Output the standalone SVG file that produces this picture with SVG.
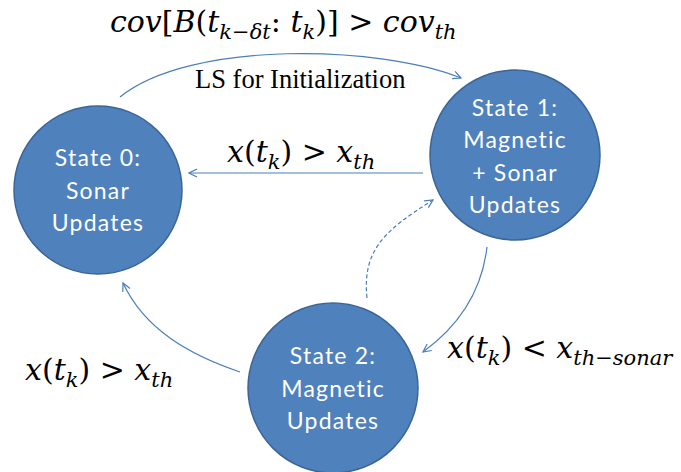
<svg xmlns="http://www.w3.org/2000/svg" width="681" height="472" viewBox="0 0 681 472">
  <style>
    .state { fill: #4f81bd; stroke: #3b6597; stroke-width: 1.5; }
    .label { font-family: Lato, "Open Sans", sans-serif; font-size: 23px; letter-spacing: 1.2px; fill: #ffffff; text-anchor: middle; }
    .edge { fill: none; stroke: #4a7ebb; stroke-width: 1.2; }
    .dashed { stroke-dasharray: 4 2.5; }
    .math { font-family: "DejaVu Serif", serif; font-size: 30px; fill: #000000; }
    .it { font-style: italic; }
    .sub { font-size: 21px; font-style: italic; }
    .plain { font-family: "Liberation Serif", serif; font-size: 26.5px; fill: #000000; }
  </style>
  <defs>
    <marker id="arrow" viewBox="0 0 10 10" refX="9" refY="5" markerWidth="10" markerHeight="10" markerUnits="userSpaceOnUse" orient="auto">
      <path d="M1,1 L9,5 L1,9" fill="none" stroke="#4a7ebb" stroke-width="1.2"/>
    </marker>
  </defs>

  <!-- transitions -->
  <g id="connectors">
    <path class="edge" d="M120,97 C190,40 380,45 461,78" marker-end="url(#arrow)"/>
    <path class="edge" d="M423,173 L189,173" marker-end="url(#arrow)"/>
    <path class="edge dashed" d="M367,298 C362,250 385,230 433,200" marker-end="url(#arrow)"/>
    <path class="edge" d="M487,247 C482,290 460,325 423,352" marker-end="url(#arrow)"/>
    <path class="edge" d="M240,372 C190,355 145,330 123,283" marker-end="url(#arrow)"/>
  </g>

  <g id="state0">
    <circle class="state" cx="98" cy="190" r="84"/>
    <text class="label" x="98" y="166">State 0:</text>
    <text class="label" x="98" y="199">Sonar</text>
    <text class="label" x="98" y="231">Updates</text>
  </g>

  <g id="state1">
    <circle class="state" cx="515" cy="155" r="85"/>
    <text class="label" x="515" y="116">State 1:</text>
    <text class="label" x="515" y="148">Magnetic</text>
    <text class="label" x="515" y="181">+ Sonar</text>
    <text class="label" x="515" y="213">Updates</text>
  </g>

  <g id="state2">
    <circle class="state" cx="333" cy="388" r="85"/>
    <text class="label" x="333" y="364">State 2:</text>
    <text class="label" x="333" y="397">Magnetic</text>
    <text class="label" x="333" y="429">Updates</text>
  </g>

  <!-- transition conditions -->
  <g id="labels">
    <text class="math" x="110" y="32"><tspan class="it">cov</tspan>[<tspan class="it">B</tspan>(<tspan class="it">t</tspan><tspan class="sub" dy="7">k−δt</tspan><tspan dy="-7">: </tspan><tspan class="it">t</tspan><tspan class="sub" dy="7">k</tspan><tspan dy="-7">)] &gt; </tspan><tspan class="it">cov</tspan><tspan class="sub" dy="7">th</tspan></text>
    <text class="plain" x="195" y="88">LS for Initialization</text>
    <text class="math" x="227" y="162"><tspan class="it">x</tspan>(<tspan class="it">t</tspan><tspan class="sub" dy="7">k</tspan><tspan dy="-7">) &gt; </tspan><tspan class="it">x</tspan><tspan class="sub" dy="7">th</tspan></text>
    <text class="math" x="447" y="358"><tspan class="it">x</tspan>(<tspan class="it">t</tspan><tspan class="sub" dy="7">k</tspan><tspan dy="-7">) &lt; </tspan><tspan class="it">x</tspan><tspan class="sub" dy="7">th−sonar</tspan></text>
    <text class="math" x="25" y="380"><tspan class="it">x</tspan>(<tspan class="it">t</tspan><tspan class="sub" dy="7">k</tspan><tspan dy="-7">) &gt; </tspan><tspan class="it">x</tspan><tspan class="sub" dy="7">th</tspan></text>
  </g>
</svg>
